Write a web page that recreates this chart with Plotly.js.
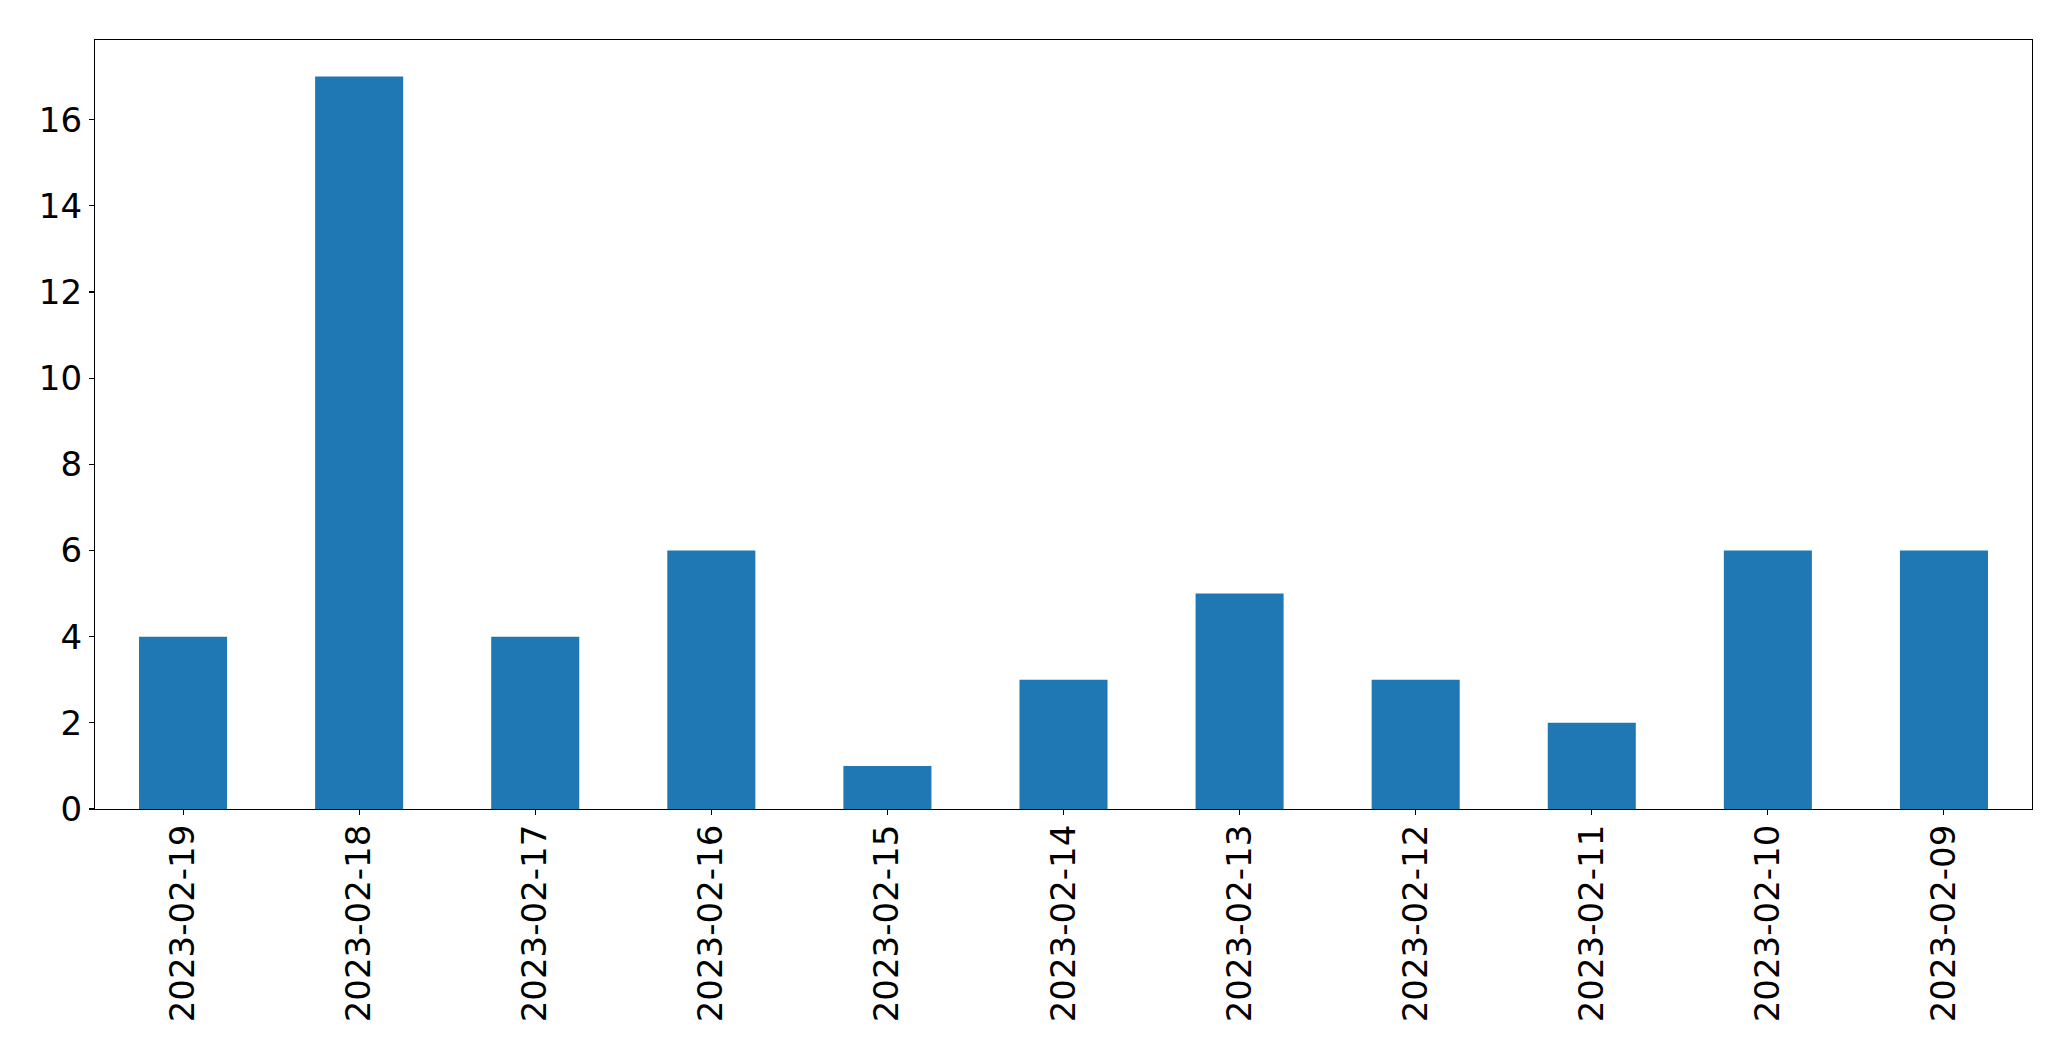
<!DOCTYPE html>
<html>
<head>
<meta charset="utf-8">
<script src="https://cdn.plot.ly/plotly-3.0.1.min.js"></script>
<style>html,body{margin:0;padding:0;background:#fff;}#chart{width:2071px;height:1061px;}</style>
</head>
<body>
<div id="chart"></div>
<script>
const categories = ["2023-02-19","2023-02-18","2023-02-17","2023-02-16","2023-02-15","2023-02-14","2023-02-13","2023-02-12","2023-02-11","2023-02-10","2023-02-09"];
const counts = [4, 17, 4, 6, 1, 3, 5, 3, 2, 6, 6];
const yTicks = [0, 2, 4, 6, 8, 10, 12, 14, 16];

const trace = {
  type: 'bar',
  x: categories,
  y: counts,
  width: 0.5,
  marker: {color: '#1f77b4', line: {width: 0}},
  hoverinfo: 'x+y'
};

const layout = {
  width: 2071,
  height: 1061,
  margin: {l: 95, r: 39, t: 40, b: 252, pad: 0},
  paper_bgcolor: '#ffffff',
  plot_bgcolor: '#ffffff',
  showlegend: false,
  bargap: 0.5,
  font: {family: 'DejaVu Sans', size: 34, color: '#000000'},
  xaxis: {
    type: 'category',
    range: [-0.5, 10.5],
    tickangle: -90,
    ticks: 'outside',
    ticklen: 5,
    tickwidth: 1.1,
    tickcolor: '#000',
    ticklabelstandoff: -4,
    showgrid: false,
    zeroline: false,
    showline: true,
    linecolor: '#000',
    linewidth: 1.1,
    mirror: true,
    tickfont: {family: 'DejaVu Sans', size: 34, color: '#000'},
    automargin: false
  },
  yaxis: {
    range: [0, 17.85],
    tickmode: 'array',
    tickvals: yTicks,
    ticktext: yTicks.map(String),
    ticks: 'outside',
    ticklen: 5,
    tickwidth: 1.1,
    tickcolor: '#000',
    showgrid: false,
    zeroline: false,
    showline: true,
    linecolor: '#000',
    linewidth: 1.1,
    mirror: true,
    tickfont: {family: 'DejaVu Sans', size: 34, color: '#000'},
    automargin: false
  }
};

Plotly.newPlot('chart', [trace], layout, {displayModeBar: false, staticPlot: true});
</script>
</body>
</html>
